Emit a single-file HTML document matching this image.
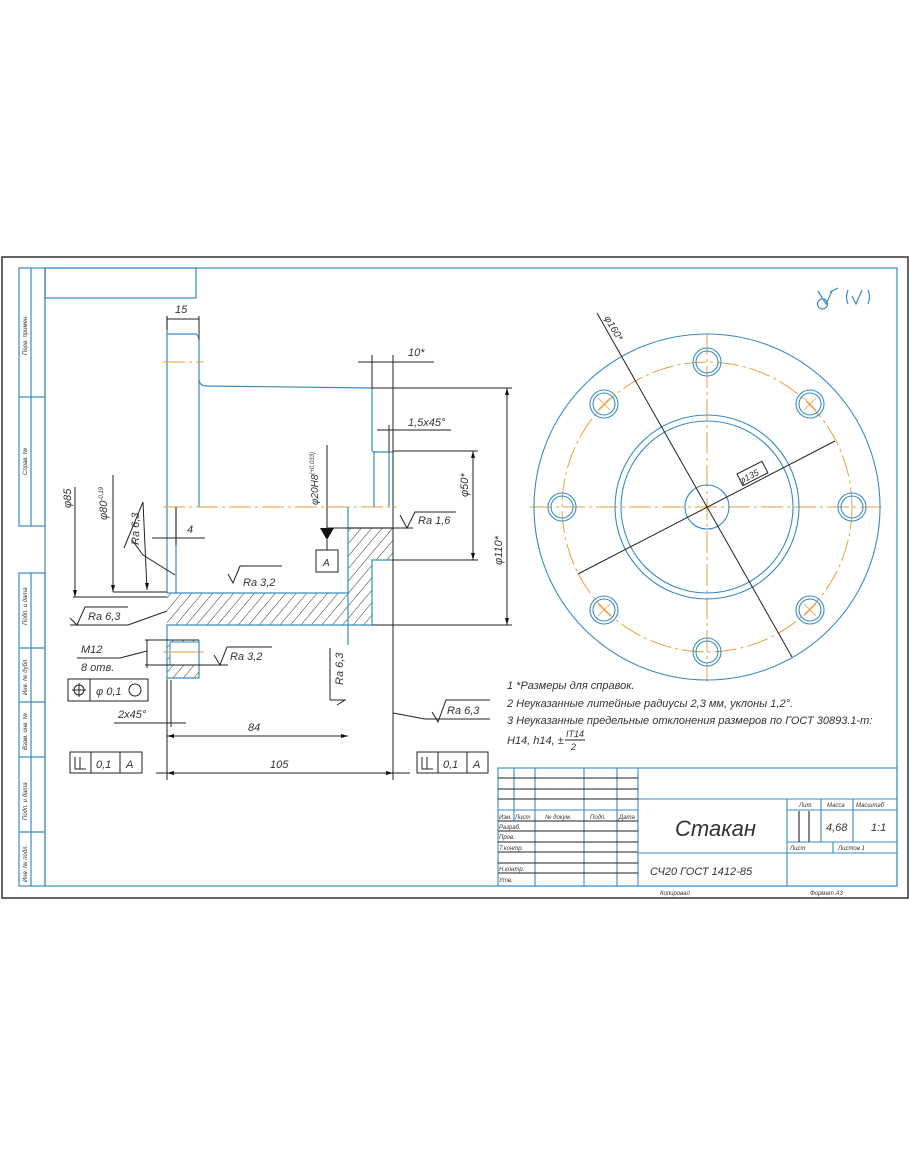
<!DOCTYPE html>
<html><head><meta charset="utf-8"><style>
html,body{margin:0;padding:0;background:#fff;}
svg{display:block;}
text{font-family:"Liberation Sans","DejaVu Sans",sans-serif;font-style:italic;fill:#333;}
</style></head><body>
<svg width="910" height="1155" viewBox="0 0 910 1155" xmlns="http://www.w3.org/2000/svg">
<defs>
<pattern id="h" patternUnits="userSpaceOnUse" width="8" height="8" patternTransform="rotate(40)">
<line x1="0" y1="0" x2="0" y2="8" stroke="#333" stroke-width="1"/>
</pattern>
</defs>
<rect x="0" y="0" width="910" height="1155" fill="#fff"/>
<rect x="2" y="257" width="906" height="641" fill="none" stroke="#333" stroke-width="1.5"/>
<g stroke="#3a8cc0" stroke-width="1.2" fill="none">
<rect x="45" y="268" width="852" height="618"/>
<rect x="45" y="268" width="151" height="30"/>
<rect x="19" y="268" width="26" height="258"/>
<line x1="31" y1="268" x2="31" y2="526"/>
<line x1="19" y1="397" x2="45" y2="397"/>
<rect x="19" y="573" width="26" height="313"/>
<line x1="31" y1="573" x2="31" y2="886"/>
<line x1="19" y1="648" x2="45" y2="648"/>
<line x1="19" y1="702" x2="45" y2="702"/>
<line x1="19" y1="757" x2="45" y2="757"/>
<line x1="19" y1="832" x2="45" y2="832"/>
</g>
<g font-size="6">
<text transform="translate(27,355) rotate(-90)">Перв. примен.</text>
<text transform="translate(27,475) rotate(-90)">Справ. №</text>
<text transform="translate(27,625) rotate(-90)">Подп. и дата</text>
<text transform="translate(27,695) rotate(-90)">Инв. № дубл.</text>
<text transform="translate(27,750) rotate(-90)">Взам. инв. №</text>
<text transform="translate(27,820) rotate(-90)">Подп. и дата</text>
<text transform="translate(27,882) rotate(-90)">Инв. № подл.</text>
</g>

<path d="M167,593 L348,593 L348,528 L393,528 L393,560 L372,560 L372,625 L167,625 Z" fill="url(#h)"/>
<rect x="167" y="640" width="32" height="38" fill="url(#h)"/>
<rect x="170" y="642" width="29" height="23" fill="#fff" stroke="#3a8cc0"/>
<line x1="163" y1="652" x2="204" y2="652" stroke="#e8a040"/>

<g stroke="#3a8cc0" stroke-width="1.2" fill="none">
<path d="M167,316 L167,593"/>
<path d="M167,334 L196,334 Q199,336 199,340 L199,507"/>
<path d="M199,380 Q200,386 206,386 L372,388"/>
<path d="M372,388 L372,450 Q372,452 376,452 L393,452"/>
<path d="M374,452 L374,507"/>
<path d="M389,452 L389,507"/>
<path d="M176,507 L176,593"/>
<path d="M167,593 L348,593 M348,507 L348,645"/>
<path d="M348,528 L393,528 M393,560 L372,560 L372,625 L167,625 L167,680"/>
<path d="M199,640 L199,678 L167,678"/>
</g>
<g stroke="#e8a040" stroke-width="1" stroke-dasharray="22,4,3,4">
<line x1="163" y1="507" x2="397" y2="507"/>
<line x1="163" y1="362" x2="204" y2="362"/>
<line x1="530" y1="507" x2="886" y2="507"/>
<line x1="707" y1="333" x2="707" y2="682"/>
</g>
<circle cx="707" cy="507" r="145" fill="none" stroke="#e8a040" stroke-width="1" stroke-dasharray="22,4,3,4"/>

<g stroke="#222" stroke-width="1" fill="none">
<line x1="167" y1="316" x2="167" y2="330"/><line x1="199" y1="316" x2="199" y2="340"/>
<line x1="167" y1="319" x2="199" y2="319"/>
<line x1="372" y1="355" x2="372" y2="388"/><line x1="393" y1="355" x2="393" y2="780"/>
<line x1="358" y1="362" x2="434" y2="362"/>
<line x1="377" y1="430" x2="451" y2="430"/><line x1="389" y1="425" x2="389" y2="452"/>
<line x1="393" y1="451" x2="478" y2="451"/><line x1="393" y1="560" x2="478" y2="560"/>
<line x1="473" y1="451" x2="473" y2="560"/>
<line x1="372" y1="388" x2="512" y2="388"/><line x1="372" y1="625" x2="512" y2="625"/>
<line x1="507" y1="388" x2="507" y2="625"/>
<line x1="327" y1="445" x2="327" y2="528"/>
<line x1="327" y1="528" x2="413" y2="528"/>
<line x1="327" y1="540" x2="327" y2="550"/>
<rect x="316" y="550" width="22" height="22"/>
<path d="M400,515 L407,528 L415,512 L456,512"/>
<line x1="152" y1="538" x2="205" y2="538"/><line x1="176" y1="507" x2="176" y2="545"/>
<line x1="75" y1="487" x2="75" y2="597"/>
<line x1="113" y1="475" x2="113" y2="592"/>
<line x1="143" y1="502" x2="147" y2="590"/>
<path d="M124,548 L143,502 M132,540 L143,555 L175,575"/>
<line x1="73" y1="597" x2="167" y2="597"/>
<line x1="113" y1="592" x2="167" y2="592"/>
<path d="M70,625 L128,625 L167,611 M70,618 L77,625 L85,607 L128,607"/>
<path d="M228,574 L233,583 L240,566 L282,566"/>
<path d="M77,658 L120,658 L147,651"/>
<line x1="147" y1="640" x2="147" y2="668"/>
<line x1="145" y1="640" x2="199" y2="640"/><line x1="145" y1="665" x2="228" y2="665"/>
<path d="M214,655 L220,665 L227,647 L272,647"/>
<rect x="68" y="679" width="80" height="22"/><line x1="90" y1="679" x2="90" y2="701"/>
<line x1="114" y1="723" x2="186" y2="723"/><line x1="171" y1="680" x2="171" y2="727"/>
<line x1="167" y1="680" x2="167" y2="780"/>
<line x1="167" y1="736" x2="348" y2="736"/>
<line x1="167" y1="773" x2="393" y2="773"/><line x1="393" y1="773" x2="410" y2="773"/><line x1="156" y1="773" x2="167" y2="773"/>
<path d="M330,648 L330,700 M330,700 L345,700 L337,705"/>
<path d="M393,713 L425,719 L490,719 M432,712 L438,722 L446,700 L490,700"/>
<rect x="70" y="752" width="72" height="21"/><line x1="91" y1="752" x2="91" y2="773"/><line x1="120" y1="752" x2="120" y2="773"/>
<rect x="417" y="752" width="71" height="21"/><line x1="438" y1="752" x2="438" y2="773"/><line x1="467" y1="752" x2="467" y2="773"/>
<path d="M75,757 L75,769 L86,769 M80,757 L80,769" />
<path d="M422,757 L422,769 L433,769 M427,757 L427,769" />
</g>
<path d="M320,528 L334,528 L327,540 Z" fill="#111"/>
<g fill="#111">
<path d="M507,388 l-2,7 l4,0z"/><path d="M507,625 l-2,-7 l4,0z"/>
<path d="M473,451 l-2,7 l4,0z"/><path d="M473,560 l-2,-7 l4,0z"/>
<path d="M75,597 l-2,-7 l4,0z"/><path d="M113,592 l-2,-7 l4,0z"/><path d="M147,590 l-2,-7 l4,0z"/>
<path d="M167,736 l7,-2 l0,4z"/><path d="M348,736 l-7,-2 l0,4z"/>
<path d="M167,773 l7,-2 l0,4z"/><path d="M393,773 l-7,-2 l0,4z"/>
</g>

<g font-size="11">
<text x="175" y="313">15</text>
<text x="408" y="356">10*</text>
<text x="408" y="426">1,5x45°</text>
<text x="187" y="533">4</text>
<text x="418" y="524">Ra 1,6</text>
<text x="323" y="566" font-size="10">A</text>
<text transform="translate(468,497) rotate(-90)">φ50*</text>
<text transform="translate(502,565) rotate(-90)">φ110*</text>
<text transform="translate(318,505) rotate(-90)" font-size="10">φ20H8<tspan font-size="6" dy="-4">(+0,033)</tspan></text>
<text transform="translate(71,508) rotate(-90)">φ85</text>
<text transform="translate(107,520) rotate(-90)">φ80<tspan font-size="6" dy="-4">-0,19</tspan></text>
<text transform="translate(139,545) rotate(-90)">Ra 6,3</text>
<text x="88" y="620">Ra 6,3</text>
<text x="243" y="586">Ra 3,2</text>
<text x="81" y="653">M12</text>
<text x="81" y="671">8 отв.</text>
<text x="230" y="660">Ra 3,2</text>
<text x="96" y="695">φ 0,1</text>
<text x="118" y="718">2x45°</text>
<text x="248" y="731">84</text>
<text x="270" y="768">105</text>
<text transform="translate(343,685) rotate(-90)">Ra 6,3</text>
<text x="447" y="714">Ra 6,3</text>
<text x="96" y="768">0,1</text><text x="126" y="768">A</text>
<text x="443" y="768">0,1</text><text x="473" y="768">A</text>
</g>
<circle cx="135" cy="690" r="6" fill="none" stroke="#222"/>
<circle cx="79" cy="690" r="5" fill="none" stroke="#222"/><path d="M72,690 L86,690 M79,683 L79,697" stroke="#222"/>

<g stroke="#3a8cc0" stroke-width="1.1" fill="none">
<circle cx="707" cy="507" r="173"/>
<circle cx="707" cy="507" r="92"/>
<circle cx="707" cy="507" r="86"/>
<circle cx="707" cy="507" r="22"/>
<circle cx="852" cy="507" r="14"/><circle cx="852" cy="507" r="11"/>
<circle cx="562" cy="507" r="14"/><circle cx="562" cy="507" r="11"/>
<circle cx="707" cy="362" r="14"/><circle cx="707" cy="362" r="11"/>
<circle cx="707" cy="652" r="14"/><circle cx="707" cy="652" r="11"/>
<circle cx="810" cy="404" r="14"/><circle cx="810" cy="404" r="11"/>
<circle cx="604" cy="404" r="14"/><circle cx="604" cy="404" r="11"/>
<circle cx="810" cy="610" r="14"/><circle cx="810" cy="610" r="11"/>
<circle cx="604" cy="610" r="14"/><circle cx="604" cy="610" r="11"/>
</g>
<g stroke="#e8a040" stroke-width="0.8">
<path d="M804,398 l12,12 M816,398 l-12,12"/><path d="M598,398 l12,12 M610,398 l-12,12"/>
<path d="M804,604 l12,12 M816,604 l-12,12"/><path d="M598,604 l12,12 M610,604 l-12,12"/>
</g>
<g stroke="#222" stroke-width="1">
<line x1="597" y1="313" x2="792" y2="657"/>
<line x1="578" y1="574" x2="835" y2="441"/>
</g>
<rect x="0" y="0" width="28" height="13" fill="#fff" stroke="#222" transform="translate(737,474) rotate(-27)"/>
<text font-size="9" transform="translate(741,484) rotate(-27)">φ135</text>
<text font-size="10" transform="translate(604,318) rotate(60)">φ160*</text>
<g stroke="#3a8cc0" stroke-width="1.2" fill="none">
<path d="M818,291 L826,304 L832,291 M826,304 m-4,-5 a5,5 0 1 0 1,0 M830,292 L838,288"/>
<path d="M848,290 q-3,7 0,14 M852,296 L856,304 L862,290 M868,290 q3,7 0,14"/>
</g>

<g font-size="11">
<text x="507" y="689">1  *Размеры для справок.</text>
<text x="507" y="707">2  Неуказанные литейные радиусы 2,3 мм, уклоны 1,2°.</text>
<text x="507" y="724">3  Неуказанные предельные отклонения размеров по ГОСТ 30893.1-m:</text>
<text x="507" y="744">H14, h14, ±</text>
<text x="566" y="737" font-size="9">IT14</text>
<line x1="565" y1="740" x2="585" y2="740" stroke="#222"/>
<text x="571" y="750" font-size="9">2</text>
</g>

<g stroke="#3a8cc0" stroke-width="1.1" fill="none">
<rect x="498" y="768" width="399" height="118"/>
<line x1="638" y1="768" x2="638" y2="886"/>
<line x1="638" y1="799" x2="897" y2="799"/>
<line x1="638" y1="853" x2="897" y2="853"/>
<line x1="787" y1="799" x2="787" y2="886"/>
<line x1="787" y1="810" x2="897" y2="810"/>
<line x1="787" y1="842" x2="897" y2="842"/>
<line x1="821" y1="799" x2="821" y2="842"/>
<line x1="853" y1="799" x2="853" y2="842"/>
<line x1="833" y1="842" x2="833" y2="853"/>
<line x1="514" y1="768" x2="514" y2="821"/>
<line x1="535" y1="768" x2="535" y2="886"/>
<line x1="584" y1="768" x2="584" y2="886"/>
<line x1="617" y1="768" x2="617" y2="886"/>
<g stroke="#222">
<line x1="498" y1="778" x2="638" y2="778"/>
<line x1="498" y1="789" x2="638" y2="789"/>
<line x1="498" y1="799" x2="638" y2="799"/>
<line x1="498" y1="821" x2="638" y2="821"/>
<line x1="498" y1="831" x2="638" y2="831"/>
<line x1="498" y1="842" x2="638" y2="842"/>
<line x1="498" y1="852" x2="638" y2="852"/>
<line x1="498" y1="863" x2="638" y2="863"/>
<line x1="498" y1="873" x2="638" y2="873"/>
<line x1="799" y1="811" x2="799" y2="842"/>
<line x1="809" y1="811" x2="809" y2="842"/>
</g>
<line x1="498" y1="810" x2="638" y2="810"/>
</g>
<g font-size="6">
<text x="499" y="819">Изм.</text><text x="515" y="819">Лист</text><text x="545" y="819">№ докум.</text>
<text x="590" y="819">Подп.</text><text x="619" y="819">Дата</text>
<text x="499" y="829">Разраб.</text><text x="499" y="839">Пров.</text><text x="499" y="850">Т.контр.</text>
<text x="499" y="871">Н.контр.</text><text x="499" y="882">Утв.</text>
<text x="799" y="807">Лит.</text><text x="827" y="807">Масса</text><text x="856" y="807">Масштаб</text>
<text x="790" y="850">Лист</text><text x="838" y="850">Листов  1</text>
<text x="660" y="895">Копировал</text><text x="810" y="895">Формат   A3</text>
</g>
<text x="675" y="836" font-size="22">Стакан</text>
<text x="650" y="875" font-size="11">СЧ20 ГОСТ 1412-85</text>
<text x="826" y="831" font-size="11">4,68</text>
<text x="871" y="831" font-size="11">1:1</text>
</svg>
</body></html>
